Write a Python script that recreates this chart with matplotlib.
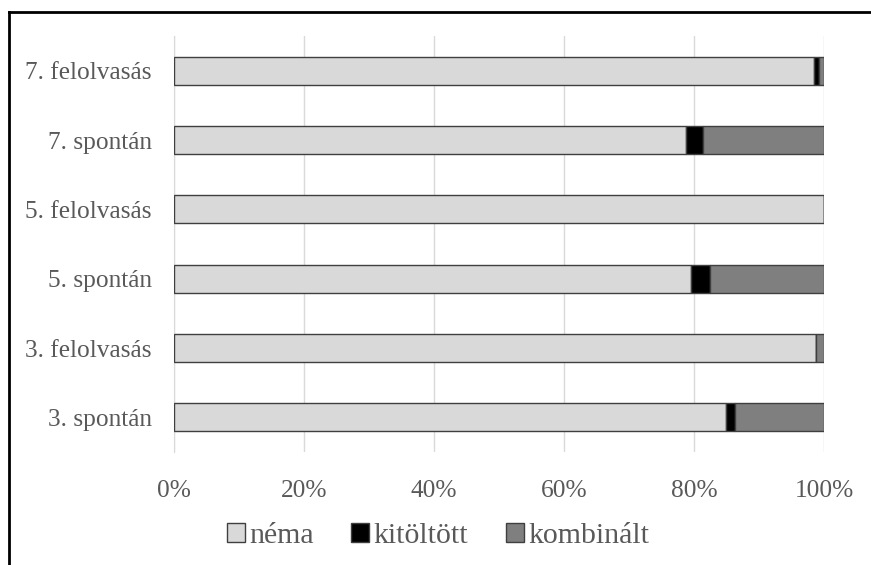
import numpy as np
import matplotlib.pyplot as plt
from matplotlib.lines import Line2D

categories = ['3. spontán', '3. felolvasás', '5. spontán', '5. felolvasás',
              '7. spontán', '7. felolvasás']
nema = [84.9, 98.7, 79.6, 100.0, 78.7, 98.4]
kitoltott = [1.4, 0.0, 2.8, 0.0, 2.7, 0.9]
kombinalt = [13.7, 1.3, 17.6, 0.0, 18.6, 0.7]
series = [('néma', nema, '#d9d9d9'),
          ('kitöltött', kitoltott, '#000000'),
          ('kombinált', kombinalt, '#7f7f7f')]
ticks = [0, 20, 40, 60, 80, 100]

plt.rcParams['font.family'] = ['Liberation Serif', 'DejaVu Serif']
txt = '#595959'

fig = plt.figure(figsize=(8.71, 5.65), dpi=100)
ax = fig.add_axes([174/871, 1-452/565, 650/871, 416/565])

y = np.arange(len(categories))
left = np.zeros(len(categories))
for name, vals, col in series:
    vals = np.array(vals)
    ax.barh(y, vals, left=left, height=0.4, color=col, edgecolor='#3f3f3f',
            linewidth=1.0, label=name, zorder=3)
    left += vals

ax.set_xlim(0, 100)
ax.set_ylim(-0.5, len(categories) - 0.5)
ax.set_xticks(ticks)
ax.set_xticklabels([f'{t}%' for t in ticks])
ax.set_yticks(y)
ax.set_yticklabels(categories)
ax.tick_params(axis='both', length=0, labelsize=18.3, labelcolor=txt)
ax.tick_params(axis='x', pad=20)
ax.tick_params(axis='y', pad=16)
ax.grid(axis='x', color='#d9d9d9', linewidth=1.0, zorder=0)
for s in ['top', 'right', 'bottom']:
    ax.spines[s].set_visible(False)
ax.spines['left'].set_color('#d9d9d9')
ax.spines['left'].set_zorder(0)

leg = ax.legend(loc='center', bbox_to_anchor=(438/871, 1-536/565),
                bbox_transform=fig.transFigure, ncol=3, frameon=False,
                fontsize=21.5, handlelength=0.6, handleheight=0.6,
                handletextpad=0.15, columnspacing=1.25, labelcolor=txt)

# outer frame (top and left edges)
fig.add_artist(Line2D([9/871, 1], [1-12/565, 1-12/565], color='black',
                      linewidth=2, transform=fig.transFigure))
fig.add_artist(Line2D([9/871, 9/871], [0, 1-12/565], color='black',
                      linewidth=2, transform=fig.transFigure))

fig.savefig('out.png', dpi=100)
